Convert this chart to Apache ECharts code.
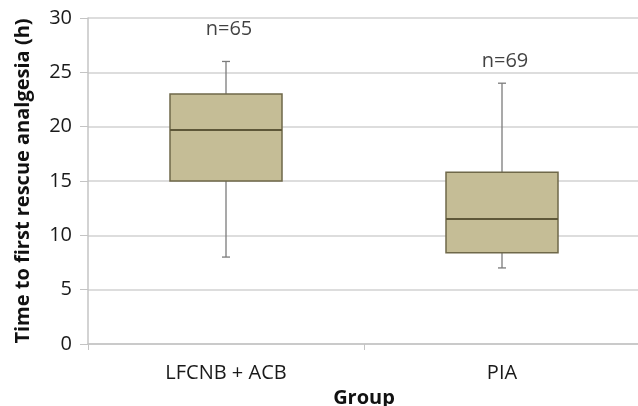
<!DOCTYPE html>
<html><head><meta charset="utf-8">
<script src="https://cdn.jsdelivr.net/npm/echarts@6/dist/echarts.min.js"></script>
<style>html,body{margin:0;padding:0;background:#fff}#c{width:638px;height:406px}</style>
</head><body><div id="c"></div>
<script>
var categories = ['LFCNB + ACB', 'PIA'];
var whiskerLow = [8, 7];
var q1 = [15, 8.4];
var median = [19.7, 11.5];
var q3 = [23, 15.8];
var whiskerHigh = [26, 24];
var nLabels = ['n=65', 'n=69'];
var nLabelY = [29, 26];
var yTicks = [0, 5, 10, 15, 20, 25, 30];

var FONT = '"Open Sans", sans-serif';
var boxData = categories.map(function (c, i) {
  return [i, whiskerLow[i], q1[i], median[i], q3[i], whiskerHigh[i]];
});

var chart = echarts.init(document.getElementById('c'), null, {renderer: 'canvas'});
chart.setOption({
  animation: false,
  grid: {left: 88, top: 18, right: -2, bottom: 62, containLabel: false, outerBoundsMode: 'none'},
  xAxis: {
    type: 'category', data: categories,
    name: 'Group', nameLocation: 'middle', nameGap: 43,
    nameTextStyle: {fontFamily: FONT, fontSize: 20, fontWeight: 'bold', color: '#111'},
    axisLine: {show: true, lineStyle: {color: '#c4c4c4', width: 1.5}},
    axisTick: {show: true, length: 6, lineStyle: {color: '#c4c4c4'}},
    axisLabel: {fontFamily: FONT, fontSize: 20, color: '#1a1a1a', margin: 19},
    splitLine: {show: false}
  },
  yAxis: {
    type: 'value', min: yTicks[0], max: yTicks[yTicks.length - 1], interval: 5,
    name: 'Time to first rescue analgesia (h)', nameLocation: 'middle', nameGap: 55,
    nameTextStyle: {fontFamily: FONT, fontSize: 20, fontWeight: 'bold', color: '#111'},
    axisLine: {show: true, lineStyle: {color: '#c4c4c4', width: 1.5}},
    axisTick: {show: true, length: 8, lineStyle: {color: '#c4c4c4'}},
    axisLabel: {fontFamily: FONT, fontSize: 20, color: '#1a1a1a', margin: 16},
    splitLine: {show: true, lineStyle: {color: '#d2d2d2', width: 1.5}}
  },
  series: [
    {
      type: 'custom',
      data: boxData,
      encode: {x: 0, y: [1, 2, 3, 4, 5]},
      renderItem: function (params, api) {
        var x = api.value(0);
        var lo = api.coord([x, api.value(1)]);
        var b1 = api.coord([x, api.value(2)]);
        var md = api.coord([x, api.value(3)]);
        var b3 = api.coord([x, api.value(4)]);
        var hi = api.coord([x, api.value(5)]);
        var bw = 112, cap = 4;
        var cx = lo[0];
        var wStyle = {stroke: '#7b7b7b', lineWidth: 1.3};
        return {
          type: 'group',
          children: [
            {type: 'line', shape: {x1: cx, y1: hi[1], x2: cx, y2: b3[1]}, style: wStyle},
            {type: 'line', shape: {x1: cx, y1: b1[1], x2: cx, y2: lo[1]}, style: wStyle},
            {type: 'line', shape: {x1: cx - cap, y1: hi[1], x2: cx + cap, y2: hi[1]}, style: wStyle},
            {type: 'line', shape: {x1: cx - cap, y1: lo[1], x2: cx + cap, y2: lo[1]}, style: wStyle},
            {type: 'rect', shape: {x: cx - bw / 2, y: b3[1], width: bw, height: b1[1] - b3[1]},
             style: {fill: '#c5bd96', stroke: '#6f6849', lineWidth: 1.5}},
            {type: 'line', shape: {x1: cx - bw / 2, y1: md[1], x2: cx + bw / 2, y2: md[1]},
             style: {stroke: '#5e5738', lineWidth: 2}}
          ]
        };
      }
    },
    {
      type: 'scatter',
      symbolSize: 0,
      data: categories.map(function (c, i) { return [i, nLabelY[i], nLabels[i]]; }),
      label: {
        show: true, position: 'inside', offset: [3, 0],
        formatter: function (p) { return p.value[2]; },
        fontFamily: FONT, fontSize: 20, color: '#111'
      }
    }
  ]
});
</script>
</body></html>
